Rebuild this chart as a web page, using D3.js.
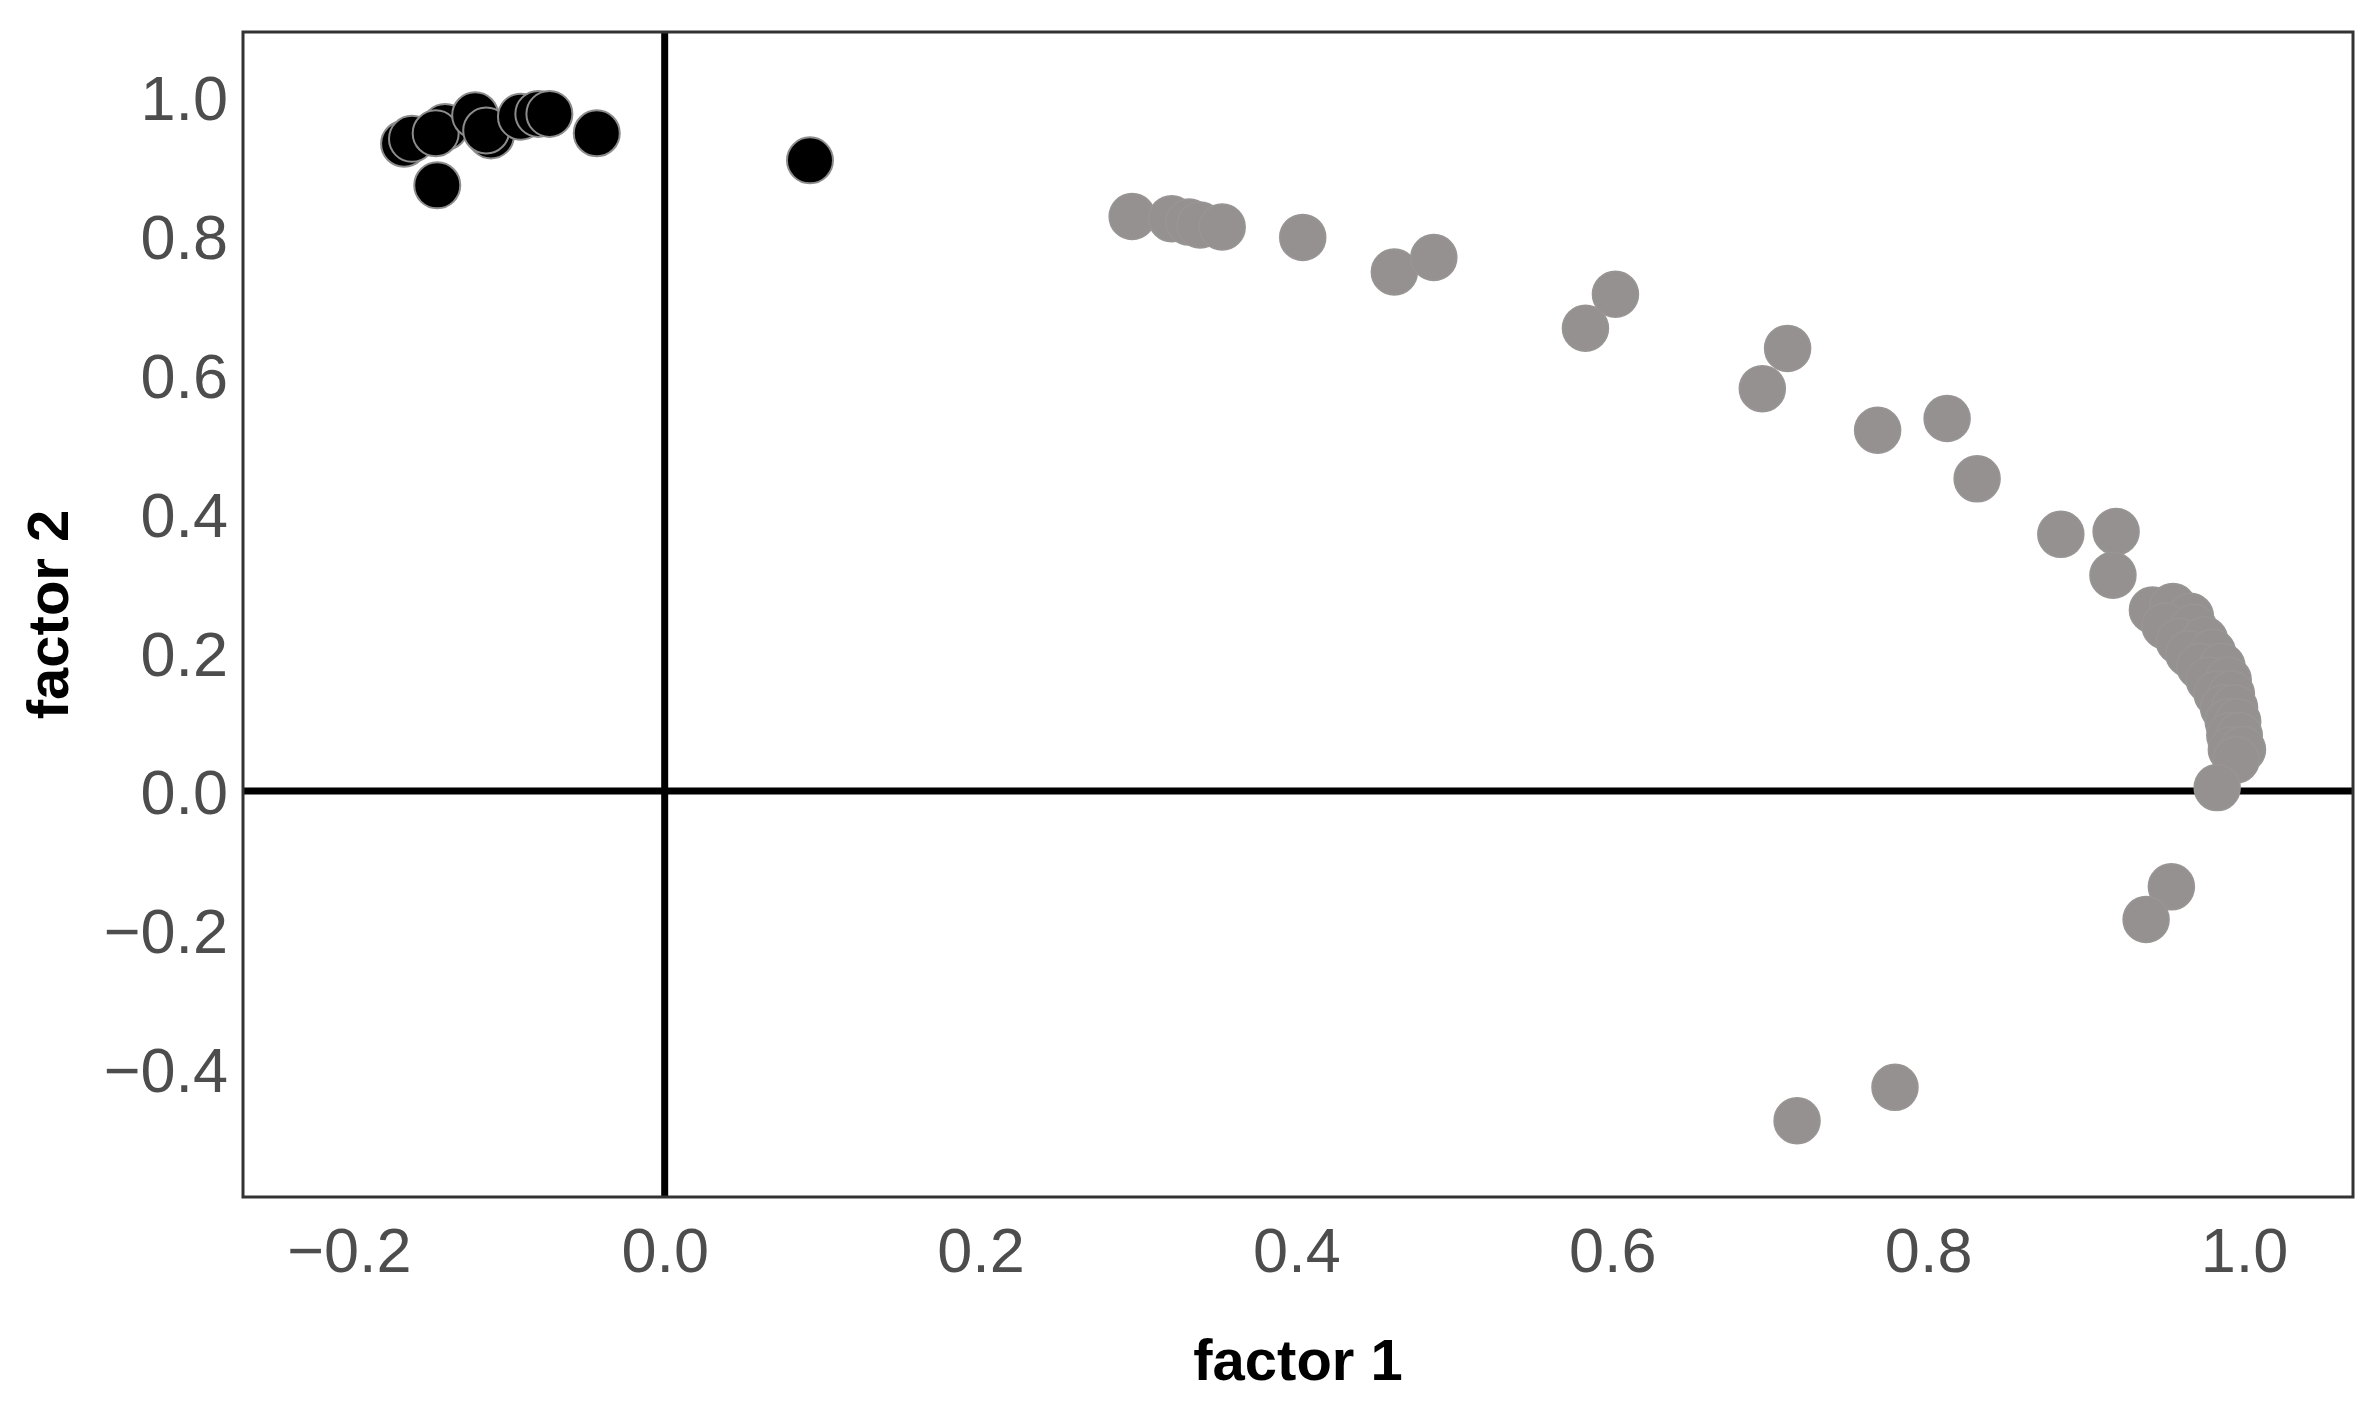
<!DOCTYPE html>
<html>
<head>
<meta charset="utf-8">
<script src="https://cdn.jsdelivr.net/npm/d3@7"></script>
<style>
  html, body { margin: 0; padding: 0; background: #ffffff; }
  svg { display: block; }
</style>
</head>
<body>
<svg id="chart" width="2377" height="1404"></svg>
<script>
// ---- data ----
const xTicks = [-0.2, 0.0, 0.2, 0.4, 0.6, 0.8, 1.0];
const yTicks = [-0.4, -0.2, 0.0, 0.2, 0.4, 0.6, 0.8, 1.0];

// group 1 (black points)
const factor1Black = [-0.165, -0.160, -0.139, -0.145, -0.120, -0.110, -0.113, -0.091, -0.080, -0.073, -0.043, -0.144, 0.092];
const factor2Black = [ 0.933,  0.940,  0.957,  0.948,  0.974,  0.945,  0.952,  0.972,  0.976,  0.976,  0.948,  0.873, 0.909];

// group 2 (grey points)
const factor1Gray = [
  0.296, 0.321, 0.332, 0.339, 0.353, 0.404, 0.462, 0.487,
  0.583, 0.602, 0.695, 0.711, 0.768, 0.812, 0.831,
  0.884, 0.919, 0.917,
  0.942, 0.955, 0.966, 0.950, 0.968, 0.959, 0.975, 0.965, 0.980,
  0.972, 0.986, 0.978, 0.990, 0.983, 0.992, 0.987, 0.994, 0.990,
  0.996, 0.991, 0.997, 0.992, 0.999, 0.995, 0.983,
  0.954, 0.938, 0.779, 0.717
];
const factor2Gray = [
  0.828, 0.825, 0.820, 0.816, 0.813, 0.798, 0.748, 0.769,
  0.667, 0.716, 0.580, 0.638, 0.520, 0.537, 0.450,
  0.370, 0.374, 0.311,
  0.261, 0.266, 0.252, 0.238, 0.236, 0.216, 0.218, 0.198, 0.200,
  0.180, 0.180, 0.160, 0.160, 0.140, 0.140, 0.120, 0.120, 0.100,
  0.100, 0.080, 0.080, 0.060, 0.060, 0.045, 0.005,
  -0.138, -0.185, -0.427, -0.475
];

// ---- layout ----
const W = 2377, H = 1404;
const panel = { left: 243, right: 2353, top: 32, bottom: 1197 };

const svg = d3.select("#chart");
svg.append("rect").attr("width", W).attr("height", H).attr("fill", "#ffffff");

const x = d3.scaleLinear().domain([-0.267, 1.069]).range([panel.left, panel.right]);
const y = d3.scaleLinear().domain([-0.585, 1.094]).range([panel.bottom, panel.top]);

const fmt = d3.format(".1f");
const font = "'Liberation Sans', Arial, Helvetica, sans-serif";

// axes (no tick marks, grey labels)
const xAxis = svg.append("g")
  .attr("transform", `translate(0,${panel.bottom})`)
  .call(d3.axisBottom(x).tickValues(xTicks).tickFormat(fmt).tickSize(0).tickPadding(30));
const yAxis = svg.append("g")
  .attr("transform", `translate(${panel.left},0)`)
  .call(d3.axisLeft(y).tickValues(yTicks).tickFormat(fmt).tickSize(0).tickPadding(15));

[xAxis, yAxis].forEach(g => {
  g.select(".domain").remove();
  g.selectAll("text")
    .attr("fill", "#4d4d4d")
    .style("font-family", font)
    .style("font-size", "63px");
});
xAxis.selectAll("text").attr("dy", null).attr("y", 75);
yAxis.selectAll("text").attr("dy", "0.36em");

// zero reference lines
svg.append("line")
  .attr("x1", panel.left).attr("x2", panel.right)
  .attr("y1", y(0)).attr("y2", y(0))
  .attr("stroke", "#000").attr("stroke-width", 7);
svg.append("line")
  .attr("x1", x(0)).attr("x2", x(0))
  .attr("y1", panel.top).attr("y2", panel.bottom)
  .attr("stroke", "#000").attr("stroke-width", 7);

// points
const grayPts = factor1Gray.map((v, i) => ({ f1: v, f2: factor2Gray[i] }));
const blackPts = factor1Black.map((v, i) => ({ f1: v, f2: factor2Black[i] }));

svg.append("g").selectAll("circle").data(grayPts).join("circle")
  .attr("cx", d => x(d.f1)).attr("cy", d => y(d.f2)).attr("r", 23)
  .attr("fill", "#969191").attr("stroke", "#9a9595").attr("stroke-width", 1.5);

svg.append("g").selectAll("circle").data(blackPts).join("circle")
  .attr("cx", d => x(d.f1)).attr("cy", d => y(d.f2)).attr("r", 23)
  .attr("fill", "#000000").attr("stroke", "#8c8c8c").attr("stroke-width", 2);

// panel border
svg.append("rect")
  .attr("x", panel.left).attr("y", panel.top)
  .attr("width", panel.right - panel.left).attr("height", panel.bottom - panel.top)
  .attr("fill", "none").attr("stroke", "#333333").attr("stroke-width", 3);

// axis titles
svg.append("text")
  .attr("x", (panel.left + panel.right) / 2).attr("y", 1380)
  .attr("text-anchor", "middle")
  .style("font-family", font).style("font-size", "58px").style("font-weight", "bold")
  .attr("fill", "#000").text("factor 1");
svg.append("text")
  .attr("transform", `translate(68,${(panel.top + panel.bottom) / 2}) rotate(-90)`)
  .attr("text-anchor", "middle")
  .style("font-family", font).style("font-size", "58px").style("font-weight", "bold")
  .attr("fill", "#000").text("factor 2");
</script>
</body>
</html>
